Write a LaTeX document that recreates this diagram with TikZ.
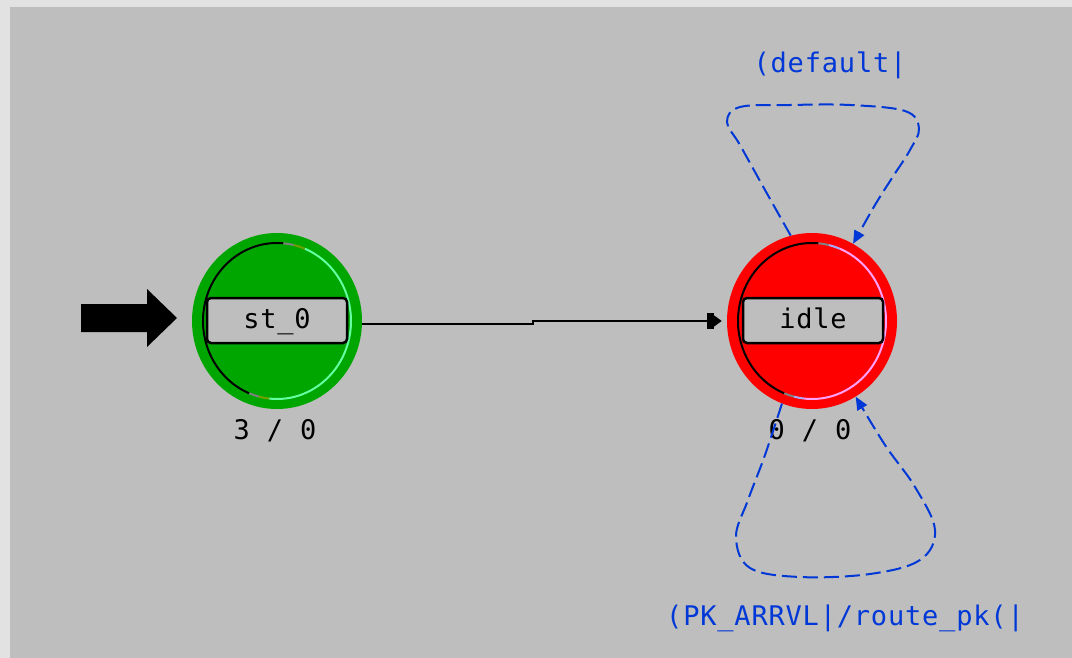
\documentclass[tikz,border=0pt]{standalone}
\usepackage{fontspec}
\usetikzlibrary{shapes.geometric,arrows.meta,calc}
\newfontfamily\pixfont[LetterSpace=3]{DejaVu Sans Mono}
\definecolor{bgout}{RGB}{226,226,226}
\definecolor{bgin}{RGB}{190,190,190}
\definecolor{stgreen}{RGB}{0,166,0}
\definecolor{ltgreen}{RGB}{100,255,160}
\definecolor{olive}{RGB}{110,160,0}
\definecolor{stred}{RGB}{255,0,0}
\definecolor{ltpink}{RGB}{255,160,255}
\definecolor{lavender}{RGB}{170,170,255}
\definecolor{midgray}{RGB}{128,128,128}
\definecolor{loopblue}{RGB}{0,56,215}
\newcommand\ringarcs[3]{%
  \begin{scope}[shift={(#1.center)}, line width=2pt]
    \draw[black]   (85:74 and 78) arc[start angle=85,end angle=248,x radius=74,y radius=78];
    \draw[midgray] (248:74 and 78) arc[start angle=248,end angle=256,x radius=74,y radius=78];
    \draw[#3]      (256:74 and 78) arc[start angle=256,end angle=264,x radius=74,y radius=78];
    \draw[#2]      (264:74 and 78) arc[start angle=264,end angle=428,x radius=74,y radius=78];
    \draw[#3]      (68:74 and 78) arc[start angle=68,end angle=77,x radius=74,y radius=78];
    \draw[midgray] (77:74 and 78) arc[start angle=77,end angle=85,x radius=74,y radius=78];
  \end{scope}}
\tikzset{
  statedisk/.style={ellipse, minimum width=170pt, minimum height=176pt, inner sep=0pt},
  namebox/.style={draw=black, line width=2.5pt, rounded corners=4pt, fill=bgin,
    minimum width=140pt, minimum height=45pt, inner sep=0pt,
    text height=20pt, text depth=5pt, font=\pixfont\fontsize{27pt}{30pt}\selectfont},
  pixtext/.style={anchor=base, inner sep=0pt, font=\pixfont\fontsize{27pt}{30pt}\selectfont},
  conn/.style={line width=2pt, black},
  loopline/.style={line width=2pt, loopblue, dash pattern=on 15pt off 6pt,
    -{Triangle[length=13pt,width=11pt]}},
}
\begin{document}
\begin{tikzpicture}[x=1pt,y=1pt]
  \useasboundingbox (0,0) rectangle (1072,-658);
  \fill[bgout] (0,0) rectangle (1072,-658);
  \fill[bgin] (10,-7) rectangle (1072,-658);

  % states
  \node[statedisk, fill=stgreen] (st0) at (277,-321) {};
  \node[statedisk, fill=stred] (idle) at (812,-321) {};
  \ringarcs{st0}{ltgreen}{olive}
  \ringarcs{idle}{ltpink}{lavender}
  \node[namebox] (st0box) at (277,-320.5) {st\_0};
  \node[namebox] (idlebox) at (813,-320.5) {idle};

  % counters
  \node[pixtext] (st0cnt) at (275,-439) {3 / 0};
  \node[pixtext] (idlecnt) at (810,-439) {0 / 0};

  % initial arrow
  \fill[black] (81,-304) -- (147,-304) -- (147,-289) -- (177,-318)
     -- (147,-347) -- (147,-332) -- (81,-332) -- cycle;

  % transition st_0 -> idle
  \coordinate (k0) at (362,-324);
  \coordinate (k1) at (533,-324);
  \coordinate (k2) at (533,-321);
  \draw[conn, shorten >=5pt, -{Square[length=7pt,width=16pt]Triangle[length=8pt,width=11pt]}]
     (k0) -- (k1) -- (k2) -- (idle.west);

  % self loops
  \draw[loopline] plot[smooth, tension=0.6] coordinates {(idle.104) (765,-190) (740,-145)
     (727,-122) (740,-107) (790,-105) (850,-105) (905,-111) (919,-128) (910,-150)
     (892,-178) (875,-205) (idle.62)};
  \draw[loopline] plot[smooth, tension=0.6] coordinates {(idle.250) (765,-455) (748,-500)
     (736,-537) (750,-568) (800,-577) (870,-574) (920,-560) (935,-530) (915,-487)
     (885,-445) (idle.300)};

  % loop labels
  \node[pixtext, text=loopblue] (deflbl) at (830,-73) {(default|};
  \node[pixtext, text=loopblue] (pklbl) at (845,-625) {(PK\_ARRVL|/route\_pk(|};
\end{tikzpicture}
\end{document}
